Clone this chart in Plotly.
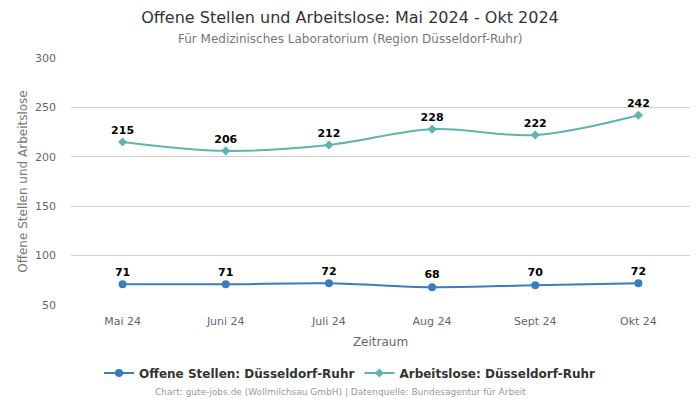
import plotly.graph_objects as go

months = ["Mai 24", "Juni 24", "Juli 24", "Aug 24", "Sept 24", "Okt 24"]
offene = [71, 71, 72, 68, 70, 72]
arbeitslose = [215, 206, 212, 228, 222, 242]
y_ticks = [50, 100, 150, 200, 250, 300]

FONT = "DejaVu Sans"
BLUE = "#3a7dbd"
TEAL = "#5cb5ad"

fig = go.Figure()
fig.add_trace(go.Scatter(
    x=months, y=offene, name="<b>Offene Stellen: Düsseldorf-Ruhr</b>",
    mode="lines+markers+text", line=dict(color=BLUE, width=2, shape="spline"),
    marker=dict(symbol="circle", size=8, color=BLUE),
    text=[f"<b>{v}</b>" for v in offene], textposition="top center",
    textfont=dict(family=FONT, size=11, color="#000000"),
    cliponaxis=False,
))
fig.add_trace(go.Scatter(
    x=months, y=arbeitslose, name="<b>Arbeitslose: Düsseldorf-Ruhr</b>",
    mode="lines+markers+text", line=dict(color=TEAL, width=2, shape="spline"),
    marker=dict(symbol="diamond", size=7, color=TEAL),
    text=[f"<b>{v}</b>" for v in arbeitslose], textposition="top center",
    textfont=dict(family=FONT, size=11, color="#000000"),
    cliponaxis=False,
))

fig.update_layout(
    width=700, height=400,
    margin=dict(l=71, r=10, t=58, b=95, autoexpand=False),
    paper_bgcolor="white", plot_bgcolor="white",
    font=dict(family=FONT, color="#666666", size=11),
    title=dict(text="Offene Stellen und Arbeitslose: Mai 2024 - Okt 2024",
               x=0.5, xanchor="center", xref="container",
               y=1 - 17 / 400, yanchor="middle", yref="container",
               font=dict(family=FONT, size=16, color="#333333")),
    showlegend=True,
    legend=dict(orientation="h", x=0.5, xanchor="center", xref="container",
                y=1 - 373 / 400, yanchor="middle", yref="container",
                font=dict(family=FONT, size=12, color="#333333")),
    xaxis=dict(range=[-0.5, 5.5], showgrid=False, showline=False, zeroline=False,
               ticks="", automargin=False, ticklabelstandoff=8,
               tickfont=dict(size=11, color="#666666"),
               title=dict(text="Zeitraum", font=dict(size=12, color="#666666"), standoff=10)),
    yaxis=dict(range=[50, 300], tickvals=y_ticks, showgrid=True, gridcolor="#d0d0d0",
               zeroline=False, showline=False, ticks="", ticklabelstandoff=14, automargin=False,
               tickfont=dict(size=11, color="#666666"),
               title=dict(text="Offene Stellen und Arbeitslose", font=dict(size=12, color="#777777"), standoff=4)),
)

fig.add_annotation(text="Für Medizinisches Laboratorium (Region Düsseldorf-Ruhr)",
                   xref="paper", yref="paper", x=(350 - 71) / 619, xanchor="center",
                   y=1 + 19 / 247, yanchor="middle", showarrow=False,
                   font=dict(family=FONT, size=12, color="#777777"))
fig.add_annotation(text="Chart: gute-jobs.de (Wollmilchsau GmbH) | Datenquelle: Bundesagentur für Arbeit",
                   xref="paper", yref="paper", x=(340 - 71) / 619, xanchor="center",
                   y=-87 / 247, yanchor="middle", showarrow=False,
                   font=dict(family=FONT, size=9, color="#999999"))

fig.write_html("out.html", config={"displayModeBar": False},
               post_script="document.body.style.margin='0';")
